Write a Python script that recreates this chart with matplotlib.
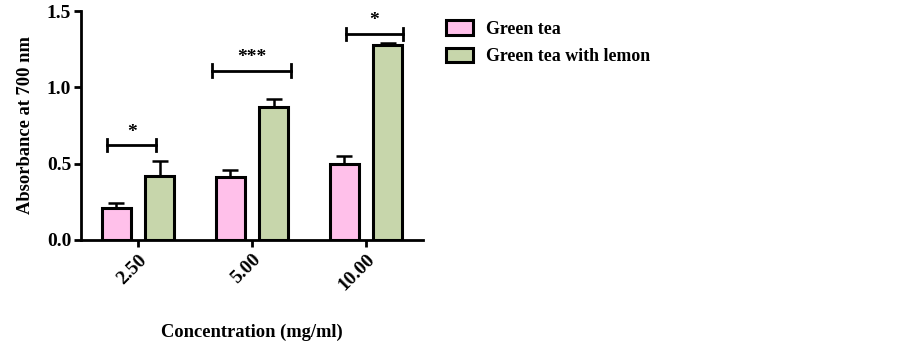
import matplotlib.pyplot as plt
import numpy as np

# ---- data ----
concentrations = ['2.50', '5.00', '10.00']
green_tea = [0.21, 0.41, 0.50]
green_tea_err = [0.035, 0.05, 0.05]
green_tea_lemon = [0.42, 0.87, 1.28]
green_tea_lemon_err = [0.10, 0.055, 0.01]

# significance brackets: (left, right) offset from tick, height, label
sig_left = [-0.27, -0.35, -0.175]
sig_right = [0.16, 0.34, 0.325]
sig_height = [0.62, 1.11, 1.35]
sig_label = ['*', '***', '*']

plt.rcParams['font.family'] = ['Liberation Serif', 'DejaVu Serif']
plt.rcParams['font.weight'] = 'bold'

pink = '#FFC0EA'
green = '#C7D6AB'

fig = plt.figure(figsize=(9.03, 3.44), dpi=100)
ax = fig.add_axes([81 / 903, 1 - 240 / 344, 342 / 903, 229 / 344])

x = np.arange(len(concentrations))
w = 0.25
off = 0.19

ax.bar(x - off, green_tea, w, color=pink, edgecolor='black', linewidth=2.2,
       label='Green tea', zorder=3)
ax.bar(x + off, green_tea_lemon, w, color=green, edgecolor='black', linewidth=2.2,
       label='Green tea with lemon', zorder=3)
ax.errorbar(x - off, green_tea, yerr=[np.zeros(3), green_tea_err], fmt='none',
            ecolor='black', elinewidth=1.8, capsize=6, capthick=1.8, zorder=2)
ax.errorbar(x + off, green_tea_lemon, yerr=[np.zeros(3), green_tea_lemon_err], fmt='none',
            ecolor='black', elinewidth=1.8, capsize=6, capthick=1.8, zorder=2)

# brackets with stars
for i in range(len(x)):
    x0 = x[i] + sig_left[i]
    x1 = x[i] + sig_right[i]
    h = sig_height[i]
    ax.plot([x0, x1], [h, h], color='black', lw=2)
    ax.plot([x0, x0], [h - 0.04, h + 0.04], color='black', lw=2)
    ax.plot([x1, x1], [h - 0.04, h + 0.04], color='black', lw=2)
    ax.text((x0 + x1) / 2, h + 0.03, sig_label[i], ha='center', va='bottom',
            fontsize=14, fontweight='bold')

ax.set_xlim(-0.5, 2.5)
ax.set_ylim(0, 1.5)
ax.set_yticks([0.0, 0.5, 1.0, 1.5])
ax.set_yticklabels(['0.0', '0.5', '1.0', '1.5'])
ax.set_xticks(x)
ax.set_xticklabels(concentrations, rotation=45, ha='right', rotation_mode='anchor')

for s in ['top', 'right']:
    ax.spines[s].set_visible(False)
for s in ['left', 'bottom']:
    ax.spines[s].set_linewidth(2)
ax.tick_params(axis='both', direction='out', length=5, width=2, labelsize=14)
ax.tick_params(axis='y', pad=2)
ax.tick_params(axis='x', pad=3)

ax.set_ylabel('Absorbance at 700 nm', fontsize=13.3, fontweight='bold', labelpad=9)
ax.set_xlabel('Concentration (mg/ml)', fontsize=13.3, fontweight='bold', labelpad=21)

fig.legend(loc='upper left', bbox_to_anchor=(430 / 903, 1 - 4 / 344), frameon=False,
           fontsize=12.9, handlelength=1.5, handleheight=0.9, handletextpad=0.7,
           labelspacing=0.55)

plt.savefig('out.png', dpi=100)
